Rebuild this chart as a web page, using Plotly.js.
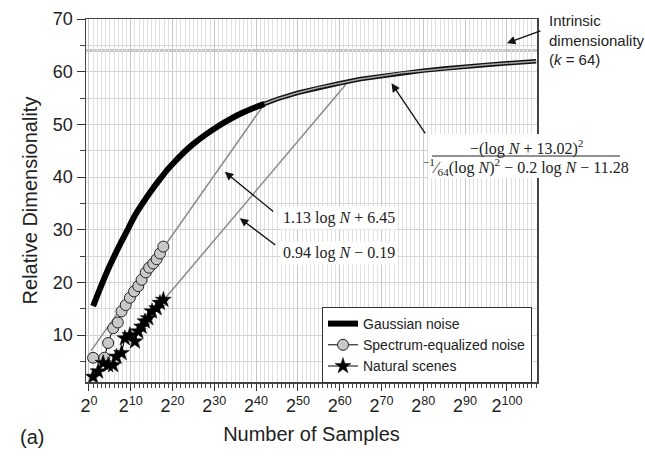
<!DOCTYPE html>
<html><head><meta charset="utf-8">
<script src="https://cdn.plot.ly/plotly-3.0.1.min.js"></script>
<style>html,body{margin:0;padding:0;background:#fff}#chart{width:645px;height:456px}</style>
</head><body><div id="chart"></div>
<script>
// ---- data (x = log2 N) ----
const gaussX = [1,3,5,7,9,11,13,15,17,19,21,23,25,28,31,34,37,40,42];
const gaussY = [15.5,19.5,23.2,26.5,29.6,32.7,35.2,37.5,39.6,41.6,43.3,44.9,46.3,48.1,49.7,51.1,52.3,53.3,53.9];
const gaussTailX = [42,45,50,55,60,65,70,75,80,85,90,95,100,107];
const gaussTailY = [53.9,54.8,56.0,57.0,57.8,58.6,59.2,59.8,60.2,60.6,61.0,61.3,61.6,62.0];
const specX = [1.0,3.7,4.6,5.8,6.9,7.8,8.8,9.8,10.8,11.8,12.6,13.6,14.4,15.4,16.2,17.0,17.8];
const specY = [5.7,5.7,8.5,11.3,12.4,14.5,15.7,17.1,18.3,19.3,20.5,21.9,22.8,23.6,24.4,25.5,26.8];
const natX = [1.0,2.2,3.4,4.6,5.8,6.6,7.8,8.6,9.8,11.0,11.8,12.6,13.4,14.2,15.1,16.2,17.0,17.8];
const natY = [2.1,3.1,4.7,4.3,4.3,5.9,6.6,9.4,10.0,8.8,10.7,11.6,12.6,13.2,14.5,15.1,16.1,16.7];
const fit1X = [0.5,42]; const fit1Y = [7.0,53.9];
const fit2X = [14,61.5]; const fit2Y = [13.0,57.6];
const intrinsicK = 64;
const xTickVals = [0,10,20,30,40,50,60,70,80,90,100];
const xTickText = xTickVals.map(v => '2<sup>' + v + '</sup>');
const yTickVals = [10,20,30,40,50,60,70];

const sans = 'Liberation Sans, Arial, sans-serif';
const serif = 'Liberation Serif, Times New Roman, serif';

const traces = [
  {x: fit1X, y: fit1Y, mode:'lines', line:{color:'#8a8a8a', width:1.5}, showlegend:false, hoverinfo:'skip'},
  {x: fit2X, y: fit2Y, mode:'lines', line:{color:'#8a8a8a', width:1.5}, showlegend:false, hoverinfo:'skip'},
  {x: gaussTailX, y: gaussTailY, mode:'lines', line:{color:'#111', width:4.5}, showlegend:false},
  {x: gaussTailX, y: gaussTailY, mode:'lines', line:{color:'#a8a8a8', width:1.5}, showlegend:false},
  {x: gaussX, y: gaussY, mode:'lines', name:'Gaussian noise', line:{color:'#000', width:6, shape:'spline'}},
  {x: specX, y: specY, mode:'lines+markers', name:'Spectrum-equalized noise',
   line:{color:'#000', width:1}, marker:{symbol:'circle', size:11, color:'#c8c8c8', line:{color:'#222', width:1}}},
  {x: natX, y: natY, mode:'lines+markers', name:'Natural scenes',
   line:{color:'#000', width:1}, marker:{symbol:'star', size:12, color:'#000', line:{color:'#000', width:0.5}}}
];

const px = v => (v - 86) / 451;
const py = v => (382 - v) / 363;

const layout = {
  width:645, height:456,
  margin:{l:86, r:108, t:19, b:74},
  paper_bgcolor:'#fff', plot_bgcolor:'#fff',
  font:{family:sans, color:'#222'},
  showlegend:true,
  xaxis:{
    range:[-0.7,107.2], tickvals:xTickVals, ticktext:xTickText,
    tickfont:{size:18, family:sans, color:'#222'},
    ticks:'outside', ticklen:7, tickcolor:'#333',
    showline:true, linecolor:'#444', linewidth:1.5, mirror:true,
    showgrid:true, gridcolor:'#c6c6c6', gridwidth:1, zeroline:false,
    minor:{dtick:1, tick0:0, ticks:'outside', ticklen:4, tickcolor:'#444', showgrid:true, gridcolor:'#e0e0e0', gridwidth:1},
    title:{text:'Number of Samples', font:{size:20, family:sans, color:'#222'}, standoff:12}
  },
  yaxis:{
    range:[1.1,70], tickvals:yTickVals,
    tickfont:{size:18, family:sans, color:'#222'},
    ticks:'outside', ticklen:8, tickcolor:'#333',
    showline:true, linecolor:'#444', linewidth:1.5, mirror:true,
    showgrid:true, gridcolor:'#d2d2d2', zeroline:false,
    minor:{dtick:5, tick0:0, ticks:'outside', ticklen:5, tickcolor:'#444', showgrid:true, gridcolor:'#d8d8d8'},
    title:{text:'Relative Dimensionality', font:{size:20, family:sans, color:'#222'}, standoff:10}
  },
  legend:{x:px(532), xanchor:'right', y:py(307), yanchor:'top',
    bgcolor:'#fff', bordercolor:'#333', borderwidth:1,
    font:{size:14, family:sans, color:'#222'}, tracegroupgap:0},
  shapes:[
    {type:'line', xref:'paper', x0:0, x1:1, yref:'y', y0:intrinsicK, y1:intrinsicK, line:{color:'#c8c8c8', width:3}, layer:'below'},
    {type:'rect', xref:'paper', yref:'paper', x0:px(428), x1:px(624), y0:py(178), y1:py(134), fillcolor:'#fff', line:{width:0}, layer:'above'},
    {type:'line', xref:'paper', yref:'paper', x0:px(432), x1:px(620), y0:py(156), y1:py(156), line:{color:'#222', width:1}, layer:'above'}
  ],
  annotations:[
    // arrows
    {x:100, y:65.4, xref:'x', yref:'y', ax:35, ay:-13, text:' ', font:{size:1}, showarrow:true, arrowhead:2, arrowsize:1.3, arrowwidth:1.3, arrowcolor:'#111'},
    {x:72.4, y:57.8, xref:'x', yref:'y', ax:35, ay:52, text:' ', font:{size:1}, showarrow:true, arrowhead:2, arrowsize:1.3, arrowwidth:1.3, arrowcolor:'#111'},
    {x:32.5, y:41.0, xref:'x', yref:'y', ax:50, ay:41, text:' ', font:{size:1}, showarrow:true, arrowhead:2, arrowsize:1.3, arrowwidth:1.3, arrowcolor:'#111'},
    {x:36.1, y:32.2, xref:'x', yref:'y', ax:37, ay:28, text:' ', font:{size:1}, showarrow:true, arrowhead:2, arrowsize:1.3, arrowwidth:1.3, arrowcolor:'#111'},
    // texts
    {xref:'paper', yref:'paper', x:px(547), y:py(40), xanchor:'left', yanchor:'middle', align:'left', showarrow:false,
     text:'Intrinsic<br>dimensionality<br>(<i>k</i> = 64)', font:{size:15, family:sans, color:'#222'}},
    {xref:'paper', yref:'paper', x:px(339), y:py(218), xanchor:'center', yanchor:'middle', showarrow:false, bgcolor:'#fff', borderpad:2,
     text:'1.13 log <i>N</i> + 6.45', font:{size:16, family:serif, color:'#222'}},
    {xref:'paper', yref:'paper', x:px(339), y:py(253), xanchor:'center', yanchor:'middle', showarrow:false, bgcolor:'#fff', borderpad:2,
     text:'0.94 log <i>N</i> − 0.19', font:{size:16, family:serif, color:'#222'}},
    {xref:'paper', yref:'paper', x:px(526), y:py(147), xanchor:'center', yanchor:'middle', showarrow:false,
     text:'−(log <i>N</i> + 13.02)<sup>2</sup>', font:{size:16, family:serif, color:'#222'}},
    {xref:'paper', yref:'paper', x:px(526), y:py(167), xanchor:'center', yanchor:'middle', showarrow:false,
     text:'<sup>−1</sup>⁄<sub>64</sub>(log <i>N</i>)<sup>2</sup> − 0.2 log <i>N</i> − 11.28', font:{size:16, family:serif, color:'#222'}},
    {xref:'paper', yref:'paper', x:px(32), y:py(437), xanchor:'center', yanchor:'middle', showarrow:false,
     text:'(a)', font:{size:20, family:sans, color:'#222'}}
  ]
};

Plotly.newPlot('chart', traces, layout, {displayModeBar:false, staticPlot:true});
</script></body></html>
